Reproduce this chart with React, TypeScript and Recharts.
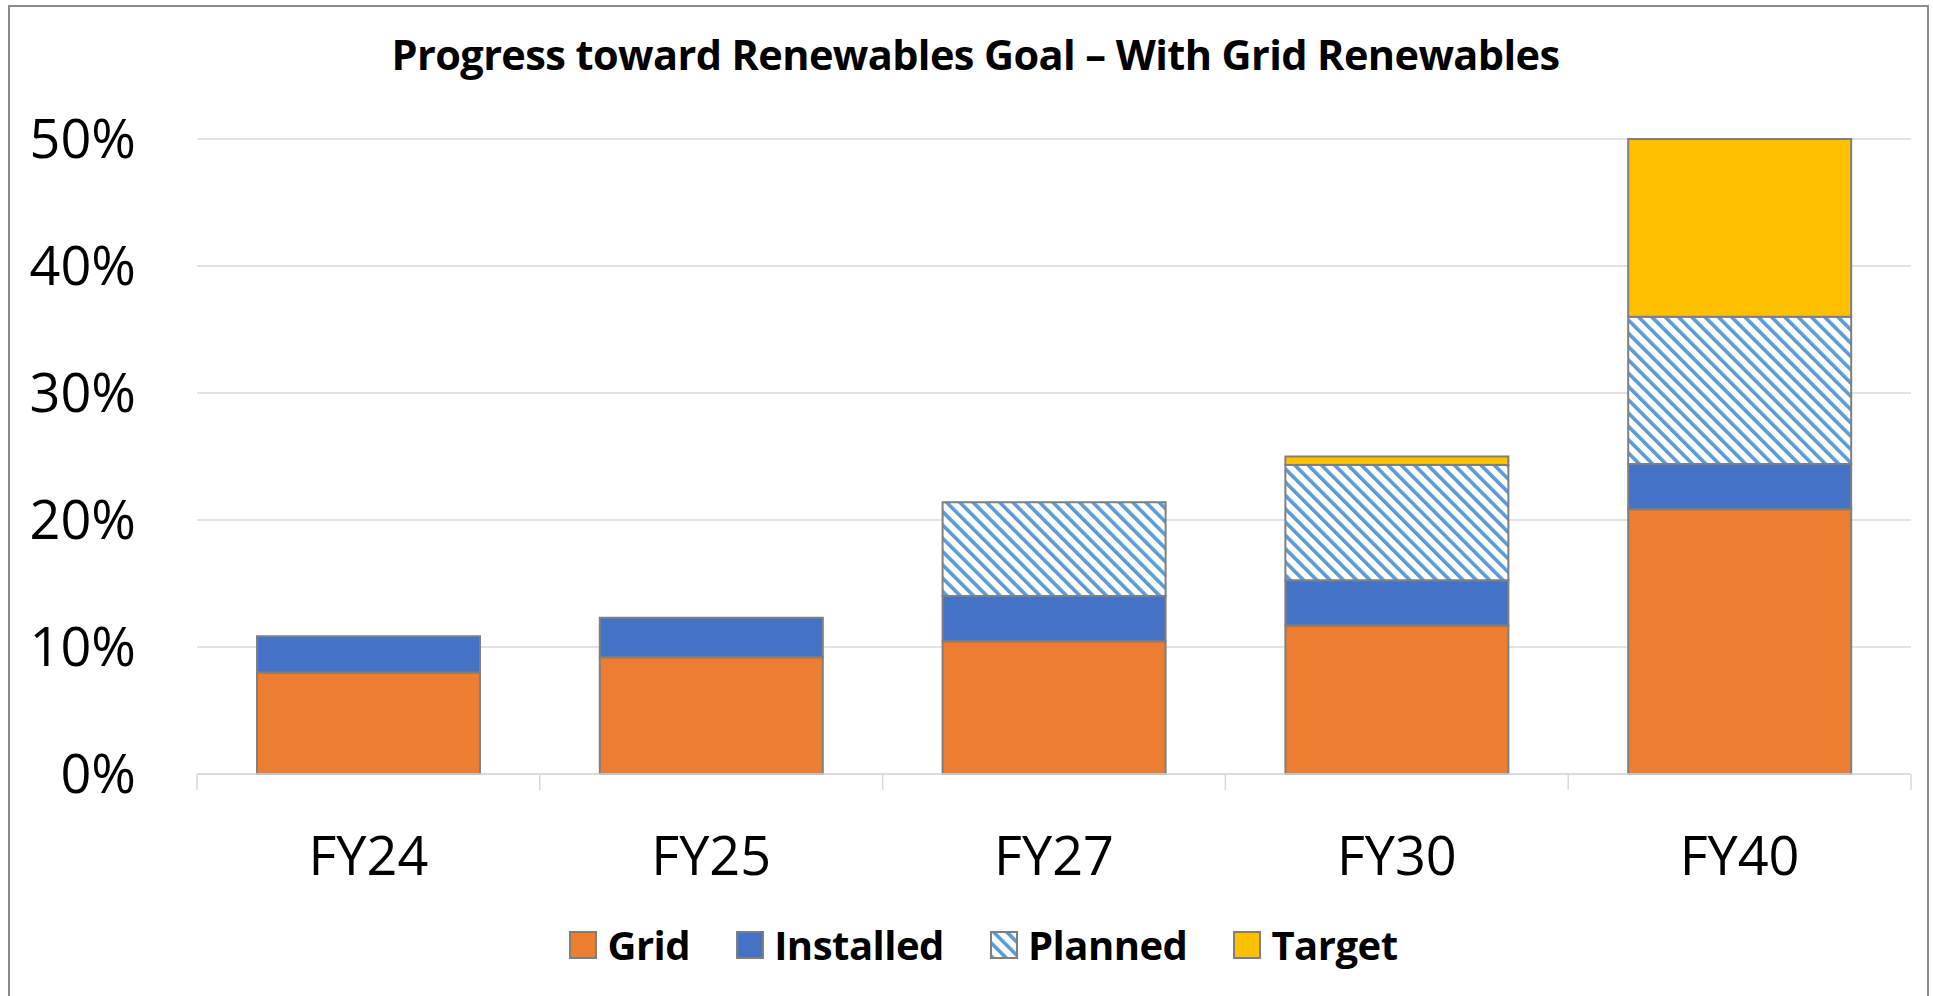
import React from 'react';
import { BarChart, Bar, XAxis, YAxis, CartesianGrid, Legend } from 'recharts';

const categories = ['FY24', 'FY25', 'FY27', 'FY30', 'FY40'];
const gridValues = [8.0, 9.2, 10.45, 11.7, 20.85];
const installedValues = [2.85, 3.1, 3.57, 3.56, 3.55];
const plannedValues: (number | null)[] = [null, null, 7.37, 9.07, 11.6];
const targetValues: (number | null)[] = [null, null, null, 0.67, 14.0];
const yTicks = [0, 10, 20, 30, 40, 50];

const seriesNames = ['Grid', 'Installed', 'Planned', 'Target'];
const seriesColors = ['#ED7D31', '#4472C4', 'url(#hatchPlanned)', '#FFC000'];

const data = categories.map((c, i) => ({
  name: c,
  Grid: gridValues[i],
  Installed: installedValues[i],
  Planned: plannedValues[i],
  Target: targetValues[i],
}));

const FONT = "'Open Sans', 'Noto Sans', sans-serif";
const HATCH = '#5B9BD5';
const STROKE = '#7f7f7f';

const Hatch = ({ id }: { id: string }) => (
  <pattern id={id} patternUnits="userSpaceOnUse" width={9.4} height={9.4} patternTransform="rotate(-45)">
    <rect x={0} y={0} width={9.4} height={9.4} fill="#ffffff" />
    <rect x={0} y={0} width={3.6} height={9.4} fill={HATCH} />
  </pattern>
);

const XTick = (props: any) => {
  const { x, y, payload, index, visibleTicksCount } = props;
  const off = payload && payload.offset != null ? payload.offset : 171.4;
  return (
    <g>
      <line x1={x - off} x2={x - off} y1={y} y2={y + 16} stroke="#d9d9d9" strokeWidth={1.5} />
      {index === visibleTicksCount - 1 && (
        <line x1={x + off} x2={x + off} y1={y} y2={y + 16} stroke="#d9d9d9" strokeWidth={1.5} />
      )}
      <text x={x} y={y + 101} textAnchor="middle" fontSize={54} fill="#000" fontFamily={FONT}>
        {payload.value}
      </text>
    </g>
  );
};

const LegendContent = () => (
  <div
    style={{
      height: 60,
      boxSizing: 'border-box',
      paddingBottom: 5,
      display: 'flex',
      alignItems: 'center',
      justifyContent: 'center',
      paddingLeft: 48,
      fontFamily: FONT,
      fontWeight: 700,
      fontSize: 40,
      letterSpacing: -0.5,
      color: '#000',
    }}
  >
    {seriesNames.map((n, i) => (
      <div key={n} style={{ display: 'flex', alignItems: 'center', marginLeft: i === 0 ? 0 : 46 }}>
        <svg width={28} height={28} style={{ marginRight: 10 }}>
          {i === 2 && (
            <defs>
              <Hatch id="hatchLegend" />
            </defs>
          )}
          <rect
            x={1}
            y={1}
            width={26}
            height={26}
            fill={i === 2 ? 'url(#hatchLegend)' : seriesColors[i]}
            stroke={STROKE}
            strokeWidth={2}
          />
        </svg>
        <span>{n}</span>
      </div>
    ))}
  </div>
);

export default function App() {
  return (
    <div style={{ position: 'absolute', left: 8, top: 5, width: 1921, height: 1000 }}>
      <div
        style={{
          position: 'absolute',
          left: 0,
          top: 0,
          width: 1921,
          height: 1000,
          boxSizing: 'border-box',
          border: '2px solid #8a8a8a',
          pointerEvents: 'none',
        }}
      />
      <div
        style={{
          position: 'absolute',
          left: 0,
          top: 23,
          width: 1935,
          textAlign: 'center',
          fontFamily: FONT,
          fontWeight: 700,
          fontSize: 41.5,
          lineHeight: '52px',
          letterSpacing: -0.6,
          color: '#000',
        }}
      >
        Progress toward Renewables Goal – With Grid Renewables
      </div>
      <BarChart
        width={1919}
        height={991}
        data={data}
        margin={{ top: 134, right: 16, left: 0, bottom: 19 }}
        barCategoryGap="17.5%"
      >
        <defs>
          <Hatch id="hatchPlanned" />
        </defs>
        <CartesianGrid vertical={false} stroke="#d9d9d9" strokeWidth={1.5} />
        <XAxis
          dataKey="name"
          height={143}
          axisLine={{ stroke: '#d9d9d9', strokeWidth: 1.5 }}
          tickLine={false}
          tickSize={0}
          tickMargin={0}
          interval={0}
          tick={<XTick />}
        />
        <YAxis
          width={189}
          domain={[0, 50]}
          ticks={yTicks}
          axisLine={false}
          tickLine={false}
          tickSize={0}
          tickMargin={61}
          tickFormatter={(v: number) => `${v}%`}
          tick={{ fontSize: 54, fill: '#000', fontFamily: FONT }}
        />
        <Legend verticalAlign="bottom" content={<LegendContent />} />
        {seriesNames.map((n, i) => (
          <Bar
            key={n}
            dataKey={n}
            stackId="a"
            fill={seriesColors[i]}
            stroke={STROKE}
            strokeWidth={2}
            isAnimationActive={false}
          />
        ))}
      </BarChart>
    </div>
  );
}
